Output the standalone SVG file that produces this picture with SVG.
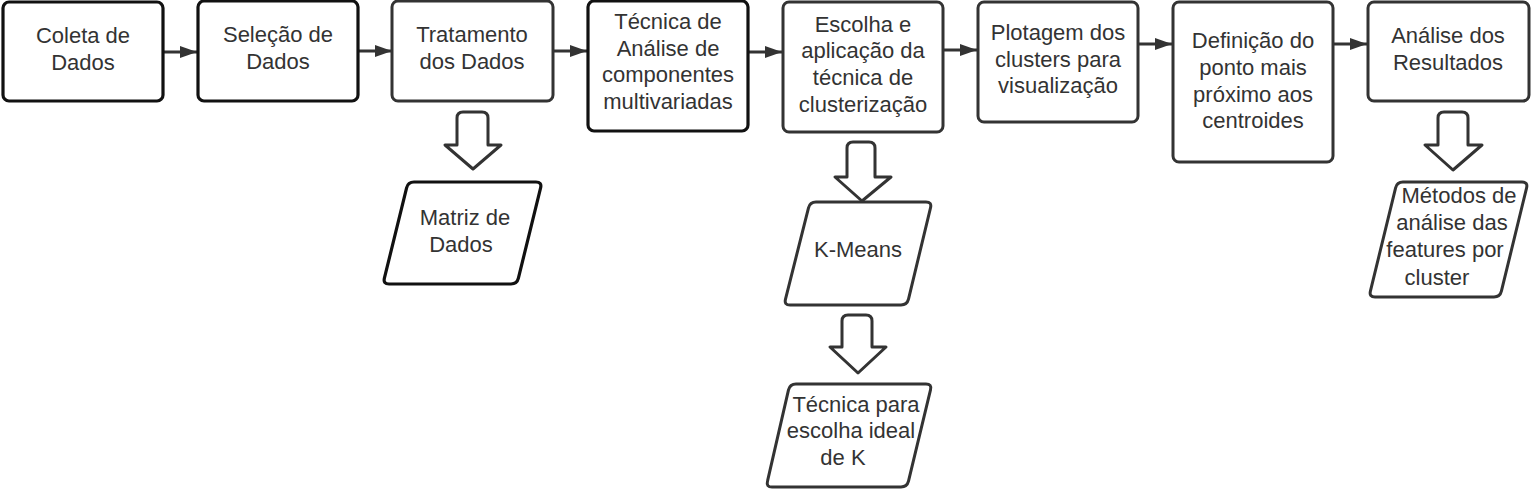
<svg xmlns="http://www.w3.org/2000/svg" width="1532" height="494" viewBox="0 0 1532 494">
<defs>
<style>
.b{fill:#fff;stroke:#333;stroke-width:3}
.k{fill:#fff;stroke:#111;stroke-width:3.2}
.p{fill:#fff;stroke:#333;stroke-width:3;stroke-linejoin:round}
.pk{fill:#fff;stroke:#111;stroke-width:3.2;stroke-linejoin:round}
.ba{fill:#fff;stroke:#333;stroke-width:3;stroke-linejoin:round}
.c{fill:none;stroke:#333;stroke-width:3}
text{font-family:"Liberation Sans",Arial,sans-serif;font-size:22px;fill:#333;text-anchor:middle}
</style>
<marker id="ah" markerWidth="18" markerHeight="14" refX="17" refY="7" orient="auto" markerUnits="userSpaceOnUse">
<path d="M0,1 L17,7 L0,13 Z" fill="#333"/>
</marker>
</defs>
<g id="connectors">
<line class="c" x1="164" y1="52" x2="197" y2="52" marker-end="url(#ah)"/>
<line class="c" x1="359" y1="51" x2="392" y2="51" marker-end="url(#ah)"/>
<line class="c" x1="554" y1="51" x2="587" y2="51" marker-end="url(#ah)"/>
<line class="c" x1="749" y1="52" x2="782" y2="52" marker-end="url(#ah)"/>
<line class="c" x1="944" y1="50" x2="977" y2="50" marker-end="url(#ah)"/>
<line class="c" x1="1139" y1="44" x2="1172" y2="44" marker-end="url(#ah)"/>
<line class="c" x1="1334" y1="44" x2="1367" y2="44" marker-end="url(#ah)"/>
<path class="ba" d="M463,112 L482,112 Q488,112 488,118 L488,145 L501,145 L473,169 L445,145 L457,145 L457,118 Q457,112 463,112 Z"/>
<path class="ba" d="M853,142 L869,142 Q875,142 875,148 L875,177 L891,177 L862,201 L835,177 L847,177 L847,148 Q847,142 853,142 Z"/>
<path class="ba" d="M848,315 L866,315 Q872,315 872,321 L872,347 L886,347 L858,373 L830,347 L842,347 L842,321 Q842,315 848,315 Z"/>
<path class="ba" d="M1444,112 L1462,112 Q1468,112 1468,118 L1468,145 L1482,145 L1453,170 L1425,145 L1438,145 L1438,118 Q1438,112 1444,112 Z"/>
</g>
<g id="n1"><rect class="k" x="3" y="2" width="160" height="99" rx="6"/><text x="83" y="43">Coleta de</text><text x="83" y="70">Dados</text></g>
<g id="n2"><rect class="k" x="198" y="1" width="160" height="100" rx="6"/><text x="278" y="42">Seleção de</text><text x="278" y="69">Dados</text></g>
<g id="n3"><rect class="b" x="392" y="1" width="161" height="100" rx="6"/><text x="472" y="42">Tratamento</text><text x="472" y="69">dos Dados</text></g>
<g id="n4"><rect class="k" x="588" y="1" width="160" height="130" rx="6"/><text x="668" y="29">Técnica de</text><text x="668" y="56">Análise de</text><text x="668" y="82">componentes</text><text x="668" y="109">multivariadas</text></g>
<g id="n5"><rect class="b" x="783" y="2" width="160" height="130" rx="6"/><text x="863" y="32">Escolha e</text><text x="863" y="58">aplicação da</text><text x="863" y="85">técnica de</text><text x="863" y="112">clusterização</text></g>
<g id="n6"><rect class="b" x="978" y="2" width="160" height="120" rx="6"/><text x="1058" y="40">Plotagem dos</text><text x="1058" y="67">clusters para</text><text x="1058" y="93">visualização</text></g>
<g id="n7"><rect class="b" x="1173" y="2" width="160" height="160" rx="6"/><text x="1253" y="48">Definição do</text><text x="1253" y="75">ponto mais</text><text x="1253" y="102">próximo aos</text><text x="1253" y="128">centroides</text></g>
<g id="n8"><rect class="b" x="1368" y="2" width="161" height="99" rx="6"/><text x="1448" y="43">Análise dos</text><text x="1448" y="70">Resultados</text></g>
<g id="d1"><path class="pk" d="M414,182 L536,182 Q542,182 540.6,187.8 L518.4,278.2 Q517,284 511,284 L389,284 Q383,284 384.4,278.2 L406.6,187.8 Q408,182 414,182 Z"/><text x="465" y="225">Matriz de</text><text x="461" y="252">Dados</text></g>
<g id="d2"><path class="p" d="M816,202 L926,202 Q932,202 930.5,207.8 L908.5,299.2 Q907,305 901,305 L790,305 Q784,305 785.5,299.2 L808.5,207.8 Q810,202 816,202 Z"/><text x="858" y="257">K-Means</text></g>
<g id="d3"><path class="p" d="M796,384 L926,384 Q932,384 930.5,389.8 L908.5,481.2 Q907,487 901,487 L772,487 Q766,487 767.5,481.2 L788.5,389.8 Q790,384 796,384 Z"/><text x="856" y="412">Técnica para</text><text x="851" y="438">escolha ideal</text><text x="843" y="465">de K</text></g>
<g id="d4"><path class="p" d="M1403,182 L1522,182 Q1528,182 1526.6,187.8 L1501.4,291.2 Q1500,297 1494,297 L1375,297 Q1369,297 1370.4,291.2 L1395.6,187.8 Q1397,182 1403,182 Z"/><text x="1459" y="203">Métodos de</text><text x="1452" y="230">análise das</text><text x="1445" y="257">features por</text><text x="1437" y="285">cluster</text></g>
</svg>
